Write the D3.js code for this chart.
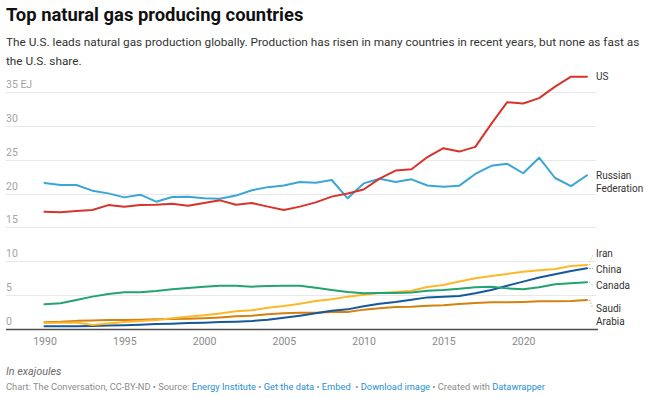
<!DOCTYPE html>
<html>
<head>
<meta charset="utf-8">
<script src="https://cdn.jsdelivr.net/npm/d3@7"></script>
<style>
  html, body { margin: 0; padding: 0; background: #fff; }
  svg { display: block; font-family: Roboto, "Noto Sans", sans-serif; }
</style>
</head>
<body>
<svg id="chart" width="650" height="399"></svg>
<script>
const years = d3.range(1990, 2025);
const seriesNames = ["US", "Russian Federation", "Iran", "China", "Canada", "Saudi Arabia"];
const usValues = [17.33, 17.23, 17.43, 17.57, 18.3, 18.07, 18.3, 18.35, 18.5, 18.2, 18.6, 19.0, 18.35, 18.6, 18.07, 17.57, 18.07, 18.7, 19.55,
  20.0, 20.6, 22.2, 23.4, 23.6, 25.4, 26.7, 26.2, 26.9, 30.3, 33.5, 33.3, 34.1, 35.8, 37.27, 37.27];
const russiaValues = [21.57, 21.27, 21.27, 20.43, 20.03, 19.44, 19.84, 18.8, 19.49, 19.54, 19.3, 19.25, 19.7, 20.5, 20.95, 21.2, 21.7, 21.6, 22.0,
  19.3, 21.5, 22.2, 21.7, 22.1, 21.2, 21.0, 21.17, 22.9, 24.1, 24.4, 23.0, 25.3, 22.3, 21.1, 22.7];
const iranValues = [0.9, 0.93, 0.96, 0.6, 0.82, 1.03, 1.18, 1.33, 1.58, 1.82, 2.02, 2.3,
  2.61, 2.76, 3.15, 3.4, 3.74, 4.13, 4.38, 4.78, 5.07, 5.3, 5.46, 5.66,
  6.2, 6.5, 7.0, 7.5, 7.83, 8.13, 8.47, 8.66, 8.86, 9.3, 9.45];
const chinaValues = [0.4, 0.4, 0.42, 0.45, 0.5, 0.55, 0.64, 0.74, 0.79, 0.89, 0.94, 1.02,
  1.08, 1.18, 1.38, 1.67, 1.97, 2.31, 2.71, 2.9, 3.35, 3.74, 3.99, 4.33,
  4.67, 4.77, 4.87, 5.27, 5.76, 6.4, 7.0, 7.6, 8.08, 8.57, 8.96];
const canadaValues = [3.64, 3.79, 4.28, 4.78, 5.17, 5.42, 5.42, 5.61, 5.86, 6.06, 6.25, 6.4,
  6.4, 6.25, 6.35, 6.4, 6.4, 6.1, 5.76, 5.46, 5.27, 5.3, 5.3, 5.4,
  5.66, 5.76, 5.96, 6.16, 6.25, 6.0, 5.86, 6.16, 6.6, 6.75, 6.9];
const saudiValues = [1.0, 1.06, 1.2, 1.26, 1.32, 1.33, 1.38, 1.43, 1.48, 1.5, 1.58, 1.7,
  1.87, 1.97, 2.17, 2.31, 2.41, 2.41, 2.51, 2.51, 2.86, 3.05, 3.25, 3.3,
  3.45, 3.5, 3.69, 3.84, 3.94, 3.94, 3.99, 4.09, 4.09, 4.14, 4.28];
const yTicks = [0, 5, 10, 15, 20, 25, 30, 35];
const xTicks = [1990, 1995, 2000, 2005, 2010, 2015, 2020];

const allValues = [usValues, russiaValues, iranValues, chinaValues, canadaValues, saudiValues];
const colors = ["#d8332a", "#3aa6d6", "#fdb72b", "#16589a", "#22a370", "#d3810f"];
const labelLines = [["US"], ["Russian", "Federation"], ["Iran"], ["China"], ["Canada"], ["Saudi", "Arabia"]];
const labelAt = [37.35, 22.7, 11.1, 8.75, 6.4, 3.05];

const svg = d3.select("#chart");
const x = d3.scaleLinear().domain([1990, 2024]).range([44.5, 587]);
const y = d3.scaleLinear().domain([0, 35]).range([329, 92]);

// gridlines
const grid = svg.append("g");
grid.selectAll("line").data(yTicks.filter(d => d !== 0)).join("line")
  .attr("x1", 6).attr("x2", 596)
  .attr("y1", d => Math.round(y(d)) + 0.5).attr("y2", d => Math.round(y(d)) + 0.5)
  .attr("stroke", "#e8e8e8").attr("stroke-width", 1);
grid.selectAll("text").data(yTicks).join("text")
  .attr("x", 6).attr("y", d => y(d) - 4)
  .attr("fill", "#a3a3a3").attr("font-size", 10.5)
  .text(d => d === 35 ? "35 EJ" : d);

// baseline
svg.append("line").attr("x1", 6).attr("x2", 598)
  .attr("y1", y(0) + 0.5).attr("y2", y(0) + 0.5)
  .attr("stroke", "#4d4d4d").attr("stroke-width", 1.6);

// x axis
const xAxis = d3.axisBottom(x).tickValues(xTicks).tickFormat(d3.format("d")).tickSize(0).tickPadding(9);
const gx = svg.append("g").attr("transform", `translate(0,${y(0)})`).call(xAxis);
gx.select(".domain").remove();
gx.selectAll("text").attr("fill", "#8a8a8a").attr("font-size", 10.5).attr("font-family", "Roboto");

// lines
const line = d3.line().x((d, i) => x(years[i])).y(d => y(d));
const order = [5, 3, 2, 4, 1, 0];
svg.append("g").selectAll("path").data(order).join("path")
  .attr("d", k => line(allValues[k]))
  .attr("fill", "none").attr("stroke", k => colors[k])
  .attr("stroke-width", 2).attr("stroke-linejoin", "round").attr("stroke-linecap", "round");

// labels
const lab = svg.append("g");
seriesNames.forEach((name, k) => {
  const endV = allValues[k][allValues[k].length - 1];
  const ly = y(labelAt[k]);
  const lines = labelLines[k];
  if (k !== 0 && k !== 1) {
    const flat = Math.abs(y(endV) - ly) <= 1.5;
    lab.append("line")
      .attr("x1", x(2024) + 2.5).attr("y1", y(endV))
      .attr("x2", 593).attr("y2", flat ? y(endV) : ly)
      .attr("stroke", colors[k]).attr("stroke-width", 1)
      .attr("stroke-dasharray", "1,2");
  }
  lines.forEach((t, j) => {
    lab.append("text")
      .attr("x", 596).attr("y", ly + j * 12.7 + 3.6)
      .attr("fill", "#333").attr("font-size", 10)
      .text(t);
  });
});

// title, subtitle
svg.append("text").attr("x", 6).attr("y", 21)
  .attr("font-size", 18.4).attr("font-weight", 700).attr("fill", "#111")
  .text("Top natural gas producing countries");
const sub = ["The U.S. leads natural gas production globally. Production has risen in many countries in recent years, but none as fast as",
  "the U.S. share."];
svg.append("g").selectAll("text").data(sub).join("text")
  .attr("x", 6).attr("y", (d, i) => 46.3 + i * 18.8)
  .attr("font-size", 11.8).attr("fill", "#333")
  .text(d => d);

// notes
svg.append("text").attr("x", 6).attr("y", 374.5)
  .attr("font-size", 10.8).attr("font-style", "italic").attr("fill", "#6b6b6b")
  .text("In exajoules");
const foot = svg.append("text").attr("x", 6).attr("y", 390).attr("font-size", 9.3).attr("fill", "#8c8c8c");
const footParts = [
  ["Chart: The Conversation, CC-BY-ND • Source: ", false],
  ["Energy Institute", true], [" • ", false], ["Get the data", true], [" • ", false],
  ["Embed", true], ["  • ", false], ["Download image", true], [" • Created with ", false], ["Datawrapper", true]
];
foot.style("white-space", "pre");
footParts.forEach(([t, link]) => {
  foot.append("tspan").attr("fill", link ? "#1f8fd3" : "#8c8c8c").text(t);
});
</script>
</body>
</html>
